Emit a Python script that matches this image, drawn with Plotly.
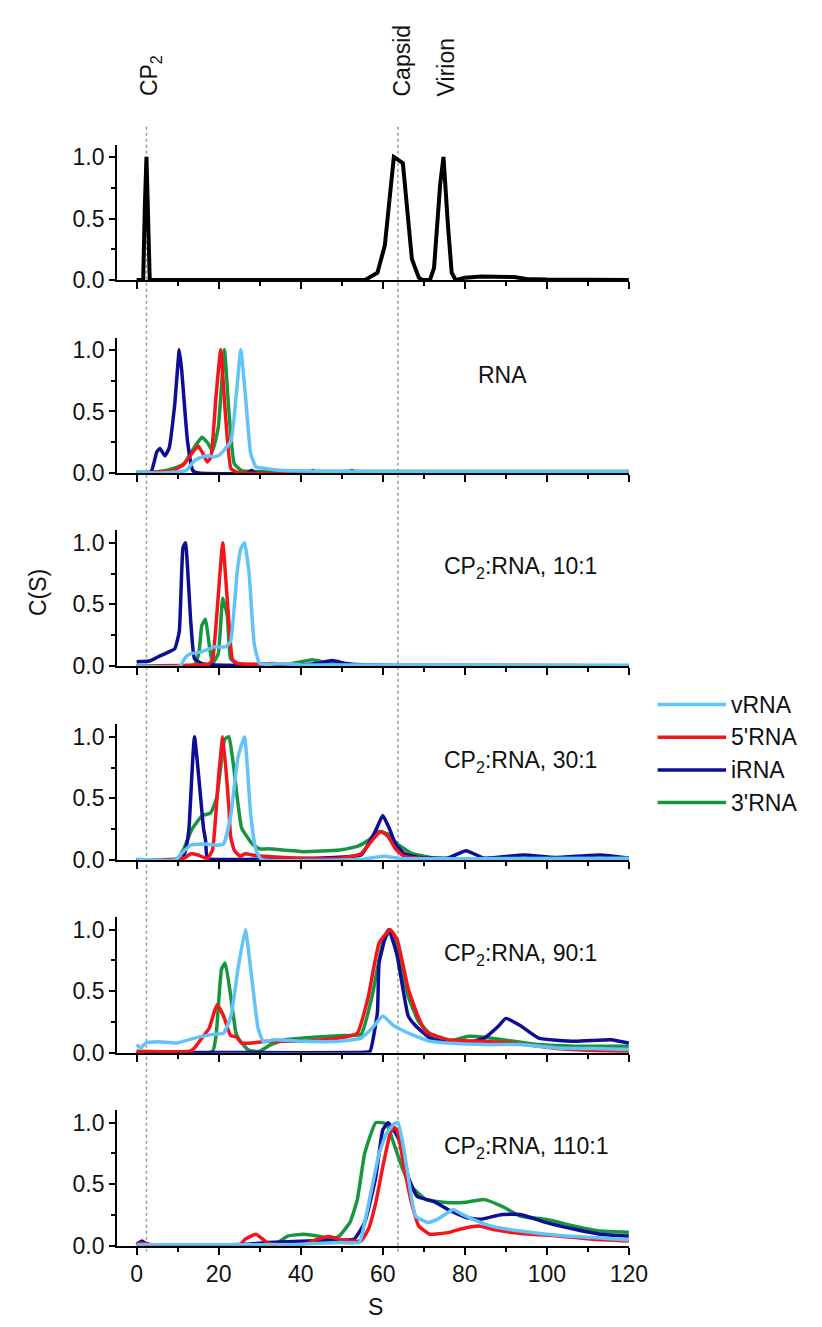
import plotly.graph_objects as go

# ---- data (S in Svedberg, C(S) normalised) ----
top_s = [0, 1.6, 2.0, 2.4, 2.8, 3.2, 55.6, 58.7, 60.5, 62.7, 64.9, 67.1, 68.8, 69.7, 71.5, 72.5, 74.0, 74.8,
         75.9, 76.8, 77.8, 80, 84, 88, 92, 95, 100, 120]
top_c = [0, 0, 0.6, 1.0, 0.5, 0, 0, 0.06, 0.28, 1.0, 0.95, 0.17, 0.02, 0, 0, 0.1, 0.78, 1.0,
         0.44, 0.06, 0, 0.02, 0.03, 0.025, 0.025, 0.01, 0.005, 0]

# panel: RNA alone
rna_i_s = [0, 3.5, 4.9, 5.7, 6.9, 7.9, 9.3, 10.4, 11.0, 12.4, 13.7, 15, 27, 28, 29, 42, 43, 44, 51.5, 52.5, 53.5, 120]
rna_i_c = [0, 0.01, 0.17, 0.2, 0.14, 0.2, 0.56, 1.0, 0.83, 0.26, 0.02, 0, 0, 0.02, 0, 0, 0.02, 0, 0, 0.02, 0, 0]
rna_v_s = [0, 2, 4, 12, 14.1, 15.9, 17.7, 19, 20.3, 23, 24.3, 25.4, 26.5, 27.8, 29.1, 31.8, 36, 45, 120]
rna_v_c = [0.01, 0.01, 0, 0.02, 0.1, 0.13, 0.14, 0.13, 0.15, 0.26, 0.64, 1.0, 0.64, 0.16, 0.05, 0.035, 0.02, 0.015, 0.012]
rna_5_s = [0, 8.8, 11.5, 13.7, 15, 16.3, 17.2, 18.1, 19.4, 20.5, 21.6, 23, 24.7, 120]
rna_5_c = [0, 0.02, 0.07, 0.17, 0.22, 0.15, 0.09, 0.13, 0.64, 1.0, 0.5, 0.035, 0.005, 0.003]
rna_3_s = [0, 5.3, 8.8, 11.5, 14.1, 15.9, 17.2, 18.5, 19.9, 21.4, 22.5, 23.8, 25.6, 35, 120]
rna_3_c = [0, 0.01, 0.035, 0.075, 0.21, 0.29, 0.25, 0.18, 0.37, 1.0, 0.5, 0.075, 0.02, 0.012, 0.012]

# panel: CP2:RNA 10:1
r10_i_s = [0, 3.1, 5.3, 7.9, 9.3, 10.4, 11.3, 11.9, 13.2, 14.1, 15.9, 18.5, 30, 40, 44, 47.7, 51, 55, 65, 120]
r10_i_c = [0.035, 0.04, 0.075, 0.115, 0.14, 0.28, 0.96, 1.0, 0.36, 0.06, 0.02, 0.01, 0.005, 0.01, 0.02, 0.045, 0.02,
           0.01, 0.005, 0.003]
r10_5_s = [0, 11.5, 17.6, 18.5, 19.4, 21, 22.2, 23.4, 24.7, 29, 33.5, 40, 120]
r10_5_c = [0, 0.005, 0.015, 0.05, 0.35, 1.0, 0.49, 0.05, 0.02, 0.015, 0.02, 0.005, 0.003]
r10_3_s = [0, 14.1, 15.2, 15.9, 16.8, 17.7, 18.5, 19.9, 21, 22.1, 22.9, 24.7, 35, 38, 42.8, 46, 50, 120]
r10_3_c = [0, 0.01, 0.11, 0.33, 0.38, 0.17, 0.02, 0.1, 0.55, 0.41, 0.06, 0.015, 0.01, 0.02, 0.05, 0.03, 0.008, 0.005]
r10_v_s = [0, 10.6, 11.9, 13.2, 15.9, 19, 21.6, 22.9, 24.5, 25.4, 26.3, 27.4, 28.7, 30, 32.7, 35.3, 40, 120]
r10_v_c = [0, 0, 0.07, 0.1, 0.115, 0.155, 0.155, 0.2, 0.76, 0.95, 1.0, 0.76, 0.17, 0.02, 0.015, 0.02, 0.01, 0.005]

# panel: CP2:RNA 30:1
r30_i_s = [0, 11.0, 11.5, 12.4, 12.8, 14.1, 16.3, 16.8, 17.2, 18, 54.7, 56.5, 58.3, 60, 61.8, 63.1, 65.3, 68.8,
           75.9, 80.3, 84.7, 94.4, 102, 113, 120]
r30_i_c = [0, 0, 0.03, 0.16, 0.27, 1.0, 0.26, 0.16, 0.01, 0.005, 0.04, 0.13, 0.24, 0.36, 0.24, 0.13, 0.05, 0.02,
           0.015, 0.075, 0.015, 0.04, 0.02, 0.04, 0.015]
r30_5_s = [0, 11.5, 13.2, 15, 17.2, 18.5, 19.9, 21, 22.5, 22.9, 23.8, 25.2, 26.5, 28.2, 31.8, 40.6, 49.4, 54.7,
           57.4, 59.6, 61.3, 63.1, 65.3, 70, 80, 120]
r30_5_c = [0, 0.013, 0.05, 0.04, 0.01, 0.08, 0.64, 1.0, 0.42, 0.19, 0.08, 0.03, 0.05, 0.04, 0.027, 0.013, 0.013, 0.05,
           0.16, 0.23, 0.19, 0.09, 0.027, 0.013, 0.005, 0.003]
r30_3_s = [0, 9.7, 11.5, 13.5, 16, 18, 19.5, 21.5, 22.5, 23.5, 25.6, 28.2, 30, 32, 40.6, 49.4, 53.8, 56.5, 59,
           61.3, 63.5, 67, 71.5, 75, 120]
r30_3_c = [0, 0, 0.09, 0.25, 0.36, 0.38, 0.5, 0.98, 1.0, 0.8, 0.26, 0.13, 0.09, 0.09, 0.067, 0.08, 0.11, 0.16, 0.23,
           0.21, 0.13, 0.054, 0.02, 0.01, 0.005]
r30_v_s = [0, 9.5, 10.6, 13.2, 16.8, 19.4, 21.2, 22.9, 24.7, 26.3, 27.8, 29.1, 30.4, 55, 60, 65, 80, 120]
r30_v_c = [0.005, 0, 0.04, 0.12, 0.13, 0.12, 0.13, 0.35, 0.83, 1.0, 0.37, 0.08, 0.005, 0.005, 0.03, 0.01, 0.01, 0.013]

# panel: CP2:RNA 90:1
r90_v_s = [0, 1, 2.2, 5.3, 9.7, 14.1, 18.5, 21.2, 23, 24.7, 26.5, 28.2, 29.6, 30.9, 33.5, 40.6, 49.4, 54.7, 57.4,
           60, 62.7, 64.4, 67, 71.5, 75.9, 84.7, 93.6, 102.4, 111.2, 120]
r90_v_c = [0.067, 0.04, 0.08, 0.09, 0.08, 0.12, 0.15, 0.16, 0.3, 0.68, 1.0, 0.57, 0.2, 0.09, 0.107, 0.094, 0.094,
           0.12, 0.2, 0.3, 0.22, 0.19, 0.15, 0.094, 0.08, 0.067, 0.067, 0.04, 0.035, 0.027]
r90_5_s = [0, 13, 14.1, 15.9, 17.7, 19.6, 21.2, 22.9, 24.3, 25.6, 28.2, 31.8, 40.6, 49.4, 53.8, 56.5, 59.1, 61.8,
           63.5, 66.2, 68.8, 70.6, 75.9, 84.7, 93.6, 102.4, 111.2, 120]
r90_5_c = [0.013, 0.013, 0.04, 0.12, 0.2, 0.39, 0.3, 0.14, 0.13, 0.08, 0.08, 0.094, 0.094, 0.12, 0.16, 0.46, 0.89,
           1.0, 0.92, 0.52, 0.28, 0.17, 0.107, 0.094, 0.072, 0.035, 0.019, 0.013]
r90_3_s = [0, 18.5, 19.4, 20.7, 21.6, 22.9, 24.3, 25.6, 27.4, 30, 32.7, 36.2, 40.6, 49.4, 54.7, 57.4, 60, 61.8,
           63.5, 66.2, 68.8, 72.4, 75.9, 81, 84.7, 89.1, 98, 106.8, 120]
r90_3_c = [0.008, 0.013, 0.15, 0.68, 0.73, 0.47, 0.15, 0.08, 0.02, 0.013, 0.067, 0.107, 0.12, 0.14, 0.15, 0.46,
           0.89, 0.99, 0.84, 0.46, 0.25, 0.13, 0.094, 0.134, 0.126, 0.107, 0.067, 0.054, 0.054]
r90_i_s = [0, 55.6, 56.9, 58.7, 59.1, 60.9, 61.5, 63.5, 66.2, 68, 71.5, 74.1, 80.3, 84.7, 88.3, 90, 93.6, 98,
           106.8, 115.6, 120]
r90_i_c = [0.005, 0.005, 0.013, 0.33, 0.73, 0.97, 1.0, 0.79, 0.3, 0.22, 0.12, 0.094, 0.08, 0.12, 0.22, 0.28, 0.22,
           0.12, 0.094, 0.107, 0.08]

# panel: CP2:RNA 110:1
r110_3_s = [0, 33.5, 37, 40.6, 44.1, 47.7, 49.4, 52, 53.8, 55.6, 58.3, 60.9, 62.7, 64.9, 67, 70.6, 75.9, 80.3,
            84.7, 89.1, 93.6, 99.7, 106.8, 113, 120]
r110_3_c = [0.005, 0.013, 0.08, 0.094, 0.08, 0.054, 0.08, 0.19, 0.375, 0.75, 1.0, 0.99, 0.83, 0.62, 0.48, 0.375,
            0.35, 0.354, 0.375, 0.32, 0.24, 0.215, 0.16, 0.12, 0.11]
r110_i_s = [0, 1.3, 2.5, 27, 32, 47.7, 53, 55.6, 58.3, 60, 61.3, 62.7, 64.4, 66.2, 68.4, 72.4, 75.9, 80.3, 83.8,
            89.1, 93.6, 99.7, 106.8, 113, 120]
r110_i_c = [0.01, 0.04, 0.013, 0.013, 0.027, 0.045, 0.054, 0.19, 0.56, 0.94, 1.0, 0.94, 0.83, 0.56, 0.4, 0.36,
            0.295, 0.23, 0.215, 0.255, 0.255, 0.19, 0.134, 0.094, 0.08]
r110_5_s = [0, 2.6, 3.5, 25, 26.5, 29.1, 31.8, 33.5, 40.6, 44.1, 46.8, 49.4, 52, 54.7, 56.5, 58.3, 60, 61.8, 62.7,
            63.5, 65.3, 67, 68.8, 71.5, 75.9, 80.3, 83.4, 87.4, 93.6, 102.4, 111.2, 120]
r110_5_c = [0.02, 0.02, 0.005, 0.005, 0.054, 0.094, 0.027, 0.013, 0.013, 0.054, 0.075, 0.054, 0.04, 0.04, 0.134,
            0.35, 0.64, 0.91, 0.965, 0.94, 0.62, 0.35, 0.16, 0.094, 0.107, 0.147, 0.16, 0.13, 0.1, 0.08, 0.054, 0.04]
r110_v_s = [0, 36, 40.6, 49.4, 54.3, 55.6, 57.4, 59.1, 60.9, 62.7, 63.7, 64.9, 66.2, 68, 71, 73.3, 75.9, 77.2,
            79.4, 82, 86.5, 93.6, 102.4, 111.2, 120]
r110_v_c = [0.008, 0.008, 0.013, 0.027, 0.027, 0.19, 0.48, 0.75, 0.91, 0.99, 1.0, 0.83, 0.56, 0.24, 0.19, 0.215,
            0.27, 0.295, 0.255, 0.215, 0.16, 0.12, 0.086, 0.067, 0.048]

panel_labels = ["", "RNA", "CP<sub>2</sub>:RNA, 10:1", "CP<sub>2</sub>:RNA, 30:1",
                "CP<sub>2</sub>:RNA, 90:1", "CP<sub>2</sub>:RNA, 110:1"]
marker_names = ["CP<sub>2</sub>", "Capsid", "Virion"]
marker_s = [3.4, 64.8, 75.5]
ref_lines_s = [2.4, 63.7]

SERIES = ["vRNA", "5'RNA", "iRNA", "3'RNA"]
COLORS = {"vRNA": "#62c3f7", "5'RNA": "#f5141a", "iRNA": "#0d0d96", "3'RNA": "#17963f"}
DRAW_ORDER = ["3'RNA", "iRNA", "5'RNA", "vRNA"]

panels = [
    None,
    {"vRNA": (rna_v_s, rna_v_c), "5'RNA": (rna_5_s, rna_5_c), "iRNA": (rna_i_s, rna_i_c), "3'RNA": (rna_3_s, rna_3_c)},
    {"vRNA": (r10_v_s, r10_v_c), "5'RNA": (r10_5_s, r10_5_c), "iRNA": (r10_i_s, r10_i_c), "3'RNA": (r10_3_s, r10_3_c)},
    {"vRNA": (r30_v_s, r30_v_c), "5'RNA": (r30_5_s, r30_5_c), "iRNA": (r30_i_s, r30_i_c), "3'RNA": (r30_3_s, r30_3_c)},
    {"vRNA": (r90_v_s, r90_v_c), "5'RNA": (r90_5_s, r90_5_c), "iRNA": (r90_i_s, r90_i_c), "3'RNA": (r90_3_s, r90_3_c)},
    {"vRNA": (r110_v_s, r110_v_c), "5'RNA": (r110_5_s, r110_5_c), "iRNA": (r110_i_s, r110_i_c),
     "3'RNA": (r110_3_s, r110_3_c)},
]

# ---- layout geometry (pixels) ----
W, H = 822, 1327
FONT = "Liberation Sans, Arial, sans-serif"
FS = 23
BASE_PX = [274, 469, 664, 860, 1055, 1250]  # pixel row of C(S)=0 in each panel
UNIT_PX = 124.5
YMAX = 1.1
X0_PX, X1_PX = 111.5, 635.6
XRANGE = [-4.8, 120]

fig = go.Figure()

for i in range(6):
    ax = "" if i == 0 else str(i + 1)
    if i == 0:
        fig.add_trace(go.Scatter(x=top_s, y=top_c, mode="lines", line=dict(color="black", width=4),
                                 showlegend=False, xaxis="x", yaxis="y"))
    else:
        for name in DRAW_ORDER:
            s, c = panels[i][name]
            fig.add_trace(go.Scatter(x=s, y=c, mode="lines", name=name,
                                     line=dict(color=COLORS[name], width=3.5, shape="spline", smoothing=0.4),
                                     showlegend=False, xaxis="x" + ax, yaxis="y" + ax))

    base = BASE_PX[i]
    top = base - YMAX * UNIT_PX
    common = dict(showline=True, linecolor="black", linewidth=1.5, ticks="outside", tickwidth=1.5,
                  tickcolor="black", showgrid=False, zeroline=False,
                  tickfont=dict(family=FONT, size=FS, color="#111"))
    fig.update_layout(**{
        "xaxis" + ax: dict(domain=[X0_PX / W, X1_PX / W], range=XRANGE, tick0=0, dtick=20, ticklen=7,
                           minor=dict(dtick=10, ticks="outside", ticklen=4, tickwidth=1.5, tickcolor="black"),
                           showticklabels=(i == 5), anchor="y" + ax, **common),
        "yaxis" + ax: dict(domain=[1 - base / H, 1 - top / H], range=[0, YMAX], tickvals=[0, 0.5, 1.0],
                           ticktext=["0.0", "0.5", "1.0"], ticklen=6,
                           minor=dict(tickvals=[0.25, 0.75], ticks="outside", ticklen=4, tickwidth=1.5,
                                      tickcolor="black"),
                           anchor="x" + ax, **common),
    })

    if panel_labels[i]:
        fig.add_annotation(x=74.5 if i > 1 else 89.3, y=0.8, xref="x" + ax, yref="y" + ax,
                           text=panel_labels[i], showarrow=False,
                           xanchor="left" if i > 1 else "center", yanchor="middle",
                           font=dict(family=FONT, size=FS, color="#111"))

# dotted reference lines (CP2 and capsid)
for s in ref_lines_s:
    fig.add_shape(type="line", xref="x", yref="paper", x0=s, x1=s, y0=1 - 1256 / H, y1=1 - 118 / H,
                  line=dict(color="#9a9a9a", width=1.5, dash="dot"), layer="below")

# rotated labels above the top panel
for name, s in zip(marker_names, marker_s):
    fig.add_annotation(x=s, y=1 - 90 / H, xref="x", yref="paper", text=name, textangle=-90,
                       showarrow=False, xanchor="center", yanchor="bottom",
                       font=dict(family=FONT, size=FS, color="#111"))

# legend drawn as sample lines with labels
for k, name in enumerate(SERIES):
    ypx = 703 + k * 33
    fig.add_shape(type="line", xref="paper", yref="paper", x0=665 / W, x1=735 / W,
                  y0=1 - ypx / H, y1=1 - ypx / H, line=dict(color=COLORS[name], width=3.5))
    fig.add_annotation(x=738 / W, y=1 - ypx / H, xref="paper", yref="paper", text=name, showarrow=False,
                       xanchor="left", yanchor="middle", font=dict(family=FONT, size=FS, color="#111"))

# axis titles
fig.add_annotation(x=30 / W, y=1 - 590 / H, xref="paper", yref="paper", text="C(S)", textangle=-90,
                   showarrow=False, xanchor="center", yanchor="middle",
                   font=dict(family=FONT, size=FS, color="#111"))
fig.add_annotation(x=376 / W, y=1 - 1312 / H, xref="paper", yref="paper", text="S",
                   showarrow=False, xanchor="center", yanchor="middle",
                   font=dict(family=FONT, size=FS, color="#111"))

fig.update_layout(width=W, height=H, margin=dict(l=0, r=0, t=0, b=0), plot_bgcolor="white",
                  paper_bgcolor="white", showlegend=False)

fig.write_html("out.html")
